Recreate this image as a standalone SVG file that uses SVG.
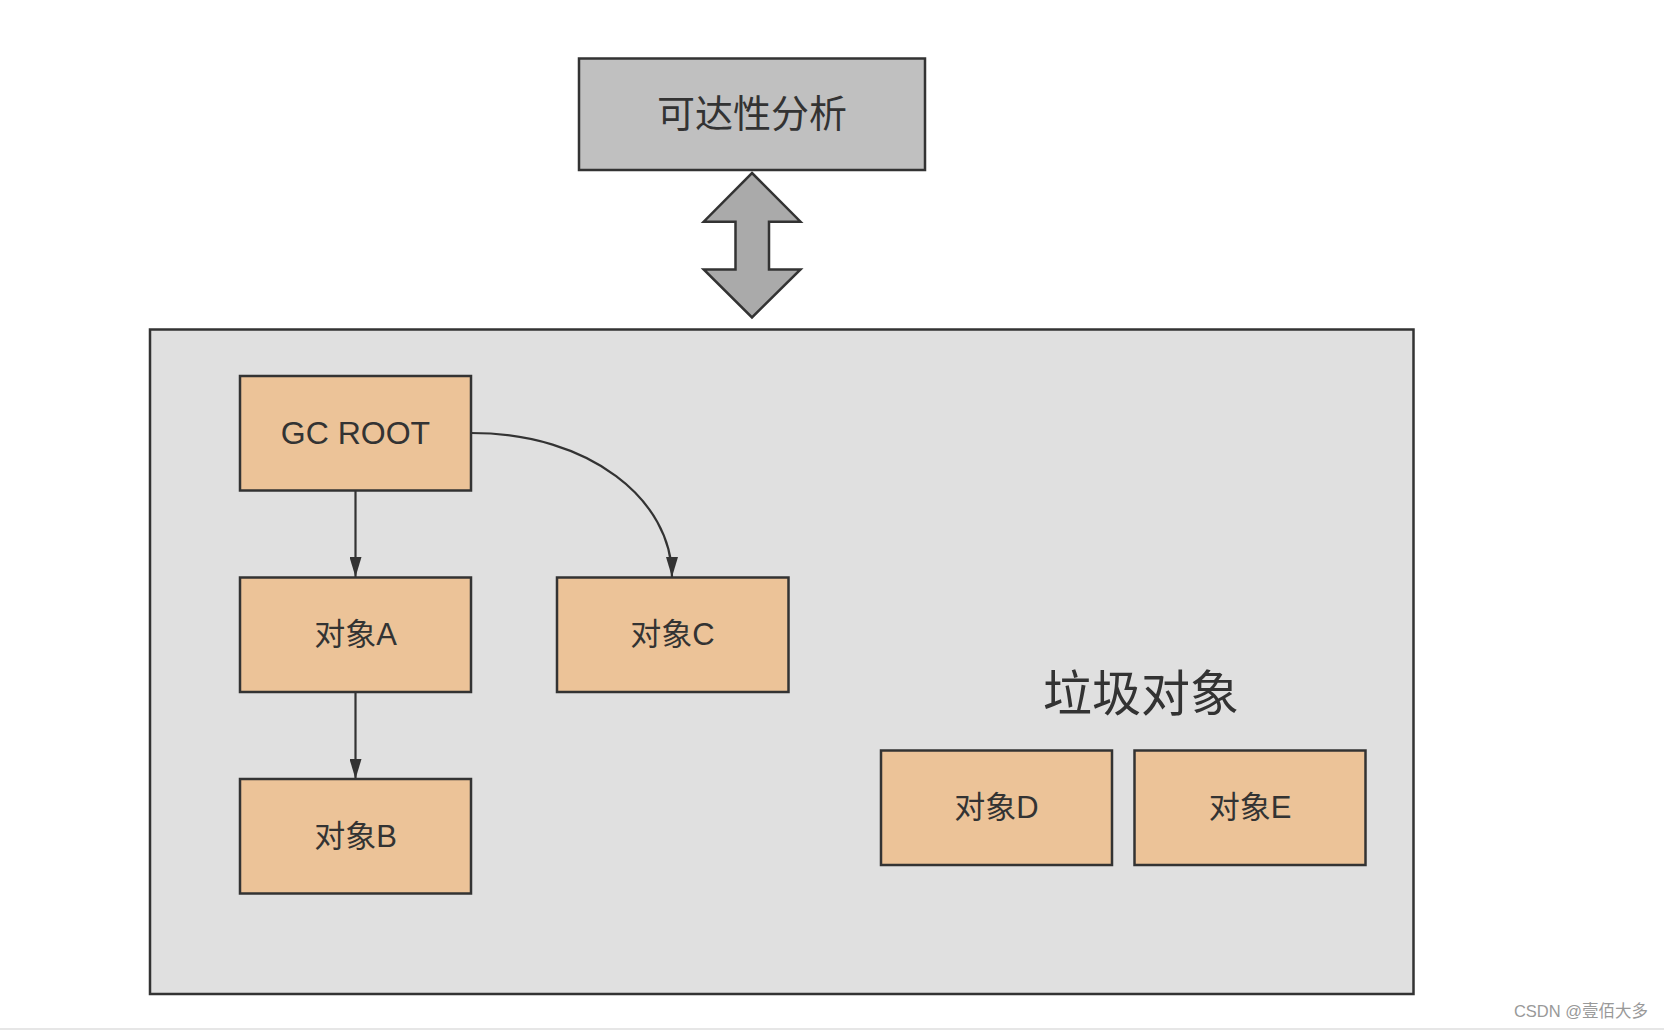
<svg xmlns="http://www.w3.org/2000/svg" width="1664" height="1030" viewBox="0 0 1664 1030">
<style>
.box{fill:#ecc398;stroke:#333;stroke-width:2.5}
.lbl{font-family:"Liberation Sans","Noto Sans CJK SC",sans-serif;font-size:31px;fill:#333;text-anchor:middle;dominant-baseline:central}
.edge{fill:none;stroke:#333;stroke-width:2.2}
</style>
<defs>
<marker id="ah" markerUnits="userSpaceOnUse" markerWidth="20" markerHeight="12" refX="20" refY="6" orient="auto">
<path d="M0,0 L20,6 L0,12 z" fill="#333"/>
</marker>
</defs>
<rect x="0" y="0" width="1664" height="1030" fill="#fff"/>
<rect x="0" y="1028" width="1664" height="2" fill="#e6e6e6"/>
<g id="analysis">
<rect x="579" y="58.5" width="346" height="111.5" fill="#c0c0c0" stroke="#333" stroke-width="2.5"/>
<text x="752" y="114" class="lbl" style="font-size:38px">可达性分析</text>
</g>
<g id="double-arrow">
<polygon points="752,173 800.5,221.7 769,221.7 769,269.4 800.5,269.4 752,317.5 703.7,269.4 735.5,269.4 735.5,221.7 703.7,221.7" fill="#aaaaaa" stroke="#333" stroke-width="2.5" stroke-linejoin="miter"/>
</g>
<g id="heap">
<rect x="150" y="329.5" width="1263.5" height="664.5" fill="#e0e0e0" stroke="#333" stroke-width="2.5"/>
<text x="1141" y="694" class="lbl" style="font-size:49px">垃圾对象</text>
</g>
<g id="connectors">
<line x1="355.5" y1="491" x2="355.5" y2="577" class="edge" marker-end="url(#ah)"/>
<line x1="355.5" y1="692" x2="355.5" y2="779" class="edge" marker-end="url(#ah)"/>
<path d="M471,433 C590,433 672,500 672,577" class="edge" marker-end="url(#ah)"/>
</g>
<g id="gcroot">
<rect x="240" y="376" width="231" height="114.5" class="box"/>
<text x="355.5" y="433" class="lbl" style="font-size:32px">GC ROOT</text>
</g>
<g id="objA">
<rect x="240" y="577.5" width="231" height="114.5" class="box"/>
<text x="355.5" y="634.5" class="lbl">对象A</text>
</g>
<g id="objB">
<rect x="240" y="779" width="231" height="114.5" class="box"/>
<text x="355.5" y="836" class="lbl">对象B</text>
</g>
<g id="objC">
<rect x="557" y="577.5" width="231.5" height="114.5" class="box"/>
<text x="672.5" y="634.5" class="lbl">对象C</text>
</g>
<g id="objD">
<rect x="881" y="750.5" width="231" height="114.5" class="box"/>
<text x="996.5" y="807.5" class="lbl">对象D</text>
</g>
<g id="objE">
<rect x="1134.5" y="750.5" width="231" height="114.5" class="box"/>
<text x="1250" y="807.5" class="lbl">对象E</text>
</g>
<text x="1648" y="1017" font-family="Liberation Sans,'Noto Sans CJK SC',sans-serif" font-size="16.5" fill="#999" text-anchor="end">CSDN @壹佰大多</text>
</svg>
